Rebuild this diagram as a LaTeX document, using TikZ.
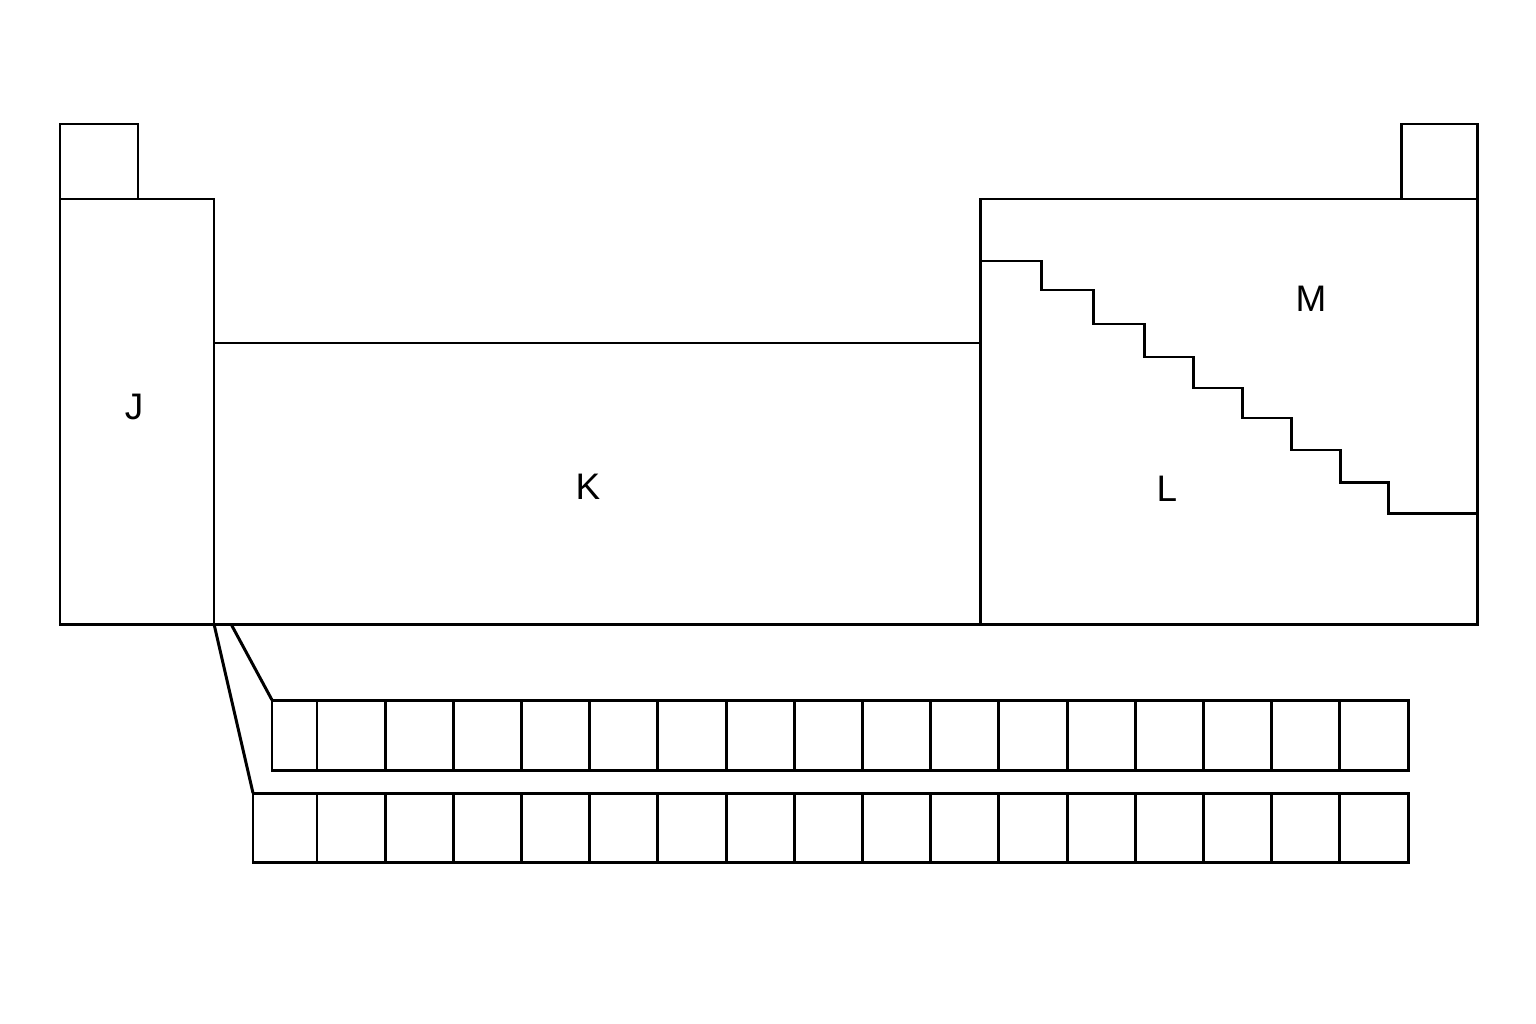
\documentclass[tikz,border=0pt]{standalone}
\usepackage{fontspec}
\setmainfont{Liberation Sans}
\tikzset{
  blk/.style={draw, line width=0.85pt},
  lbl/.style={font=\fontsize{10.5}{12}\selectfont},
}
\begin{document}
\begin{tikzpicture}[x=0.01cm, y=-0.01cm, line join=miter]
		\useasboundingbox (0,0) rectangle (1536,1024);
		% main blocks
		\draw[blk] (60,124) rectangle (138,199);
		\draw[blk] (60,199) rectangle (214,624);
		\draw[blk] (214,343) rectangle (980,624);
		\draw[blk] (980,199) rectangle (1477,624);
		\draw[blk] (1401,124) rectangle (1477,199);

		% staircase
		\draw[blk] (980,261) -| (1041,290) -| (1093,324) -| (1144,357) -| (1193,388)
			-| (1242,418) -| (1291,450) -| (1340,482) -| (1388,513) -- (1477,513);

		\node[lbl] (J) at (134,407) {J};
		\node[lbl] (K) at (588,487) {K};
		\node[lbl] (L) at (1167,489) {L};
		\node[lbl] (M) at (1311,299) {M};

		% the two detached rows
		\draw[blk] (272,700) rectangle (1408,770);
		\draw[blk] (253,793) rectangle (1408,862);
		\foreach \i in {0,...,15} {
			\draw[blk] ({317+68.19*\i},700) -- ({317+68.19*\i},770);
			\draw[blk] ({317+68.19*\i},793) -- ({317+68.19*\i},862);
		}

		\coordinate (kcorner) at (214,624);
		\coordinate (kfoot) at (231,624);
		\coordinate (rowA) at (272,700);
		\coordinate (rowB) at (253,793);
		\draw[blk] (kfoot) -- (rowA);
		\draw[blk] (kcorner) -- (rowB);
	\end{tikzpicture}
\end{document}
